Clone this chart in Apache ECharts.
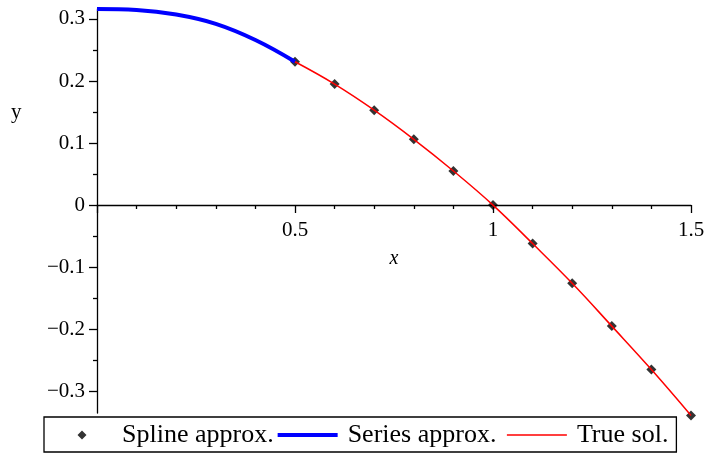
<!DOCTYPE html>
<html>
<head>
<meta charset="utf-8">
<script src="https://cdn.jsdelivr.net/npm/echarts@6/dist/echarts.min.js"></script>
<style>
  html, body { margin: 0; padding: 0; background: #fff; }
  #chart { width: 708px; height: 454px; }
</style>
</head>
<body>
<div id="chart"></div>
<script>
// values
const splineX = [0.5, 0.6, 0.7, 0.8, 0.9, 1.0, 1.1, 1.2, 1.3, 1.4, 1.5];
const splineY = [0.231, 0.195, 0.153, 0.106, 0.055, 0.0, -0.062, -0.126, -0.195, -0.265, -0.339];

const seriesX = [0, 0.1, 0.2, 0.3, 0.4, 0.5];
const seriesY = [0.316, 0.3145, 0.307, 0.292, 0.266, 0.231];

const trueX = [0.5, 0.6, 0.7, 0.8, 0.9, 1.0, 1.1, 1.2, 1.3, 1.4, 1.5];
const trueY = [0.231, 0.195, 0.153, 0.106, 0.055, 0.0, -0.062, -0.126, -0.195, -0.265, -0.339];

const yTicks = [-0.3, -0.2, -0.1, 0, 0.1, 0.2, 0.3];
const yMinorTicks = [-0.25, -0.15, -0.05, 0.05, 0.15, 0.25];

const zip = (xs, ys) => xs.map((x, i) => [x, ys[i]]);
const font = '"Liberation Serif", "DejaVu Serif", serif';
const fmtNum = v => {
  if (Math.abs(v) < 1e-9) return '0';
  const s = Math.abs(v).toFixed(1).replace(/\.0$/, '');
  return v < 0 ? '\u2212' + s : s;
};
const black = { color: '#000', width: 1.3 };

// legend icons: every path spans the full 60x9 box so they line up the same way
const corners = 'M0,0L0.01,0L0,0.01Z M60,9L59.99,9L60,8.99Z ';
const diamondIcon = 'path://' + corners + 'M30,0L34.5,4.5L30,9L25.5,4.5Z';
const thickIcon = 'path://' + corners + 'M0,2.5L60,2.5L60,6.5L0,6.5Z';
const thinIcon = 'path://' + corners + 'M0,3.75L60,3.75L60,5.25L0,5.25Z';

const chart = echarts.init(document.getElementById('chart'));
chart.setOption({
  animation: false,
  // grid 0 holds the data, grid 1 only carries the x axis drawn at y = 0
  grid: [
    { left: 97, right: 17, top: 9, bottom: 41, outerBoundsMode: 'none' },
    { left: 97, right: 17, top: 9, bottom: 249, outerBoundsMode: 'none' }
  ],
  xAxis: [{
    gridIndex: 0,
    type: 'value',
    min: 0, max: 1.5,
    show: false
  }, {
    gridIndex: 1,
    type: 'value',
    min: 0, max: 1.5, interval: 0.5,
    name: 'x',
    nameLocation: 'middle',
    nameGap: 44,
    nameTextStyle: { fontFamily: font, fontSize: 20, fontStyle: 'italic', color: '#000' },
    axisLine: { onZero: false, lineStyle: black },
    axisTick: { length: 8, lineStyle: black },
    minorTick: { show: true, splitNumber: 5, length: 4, lineStyle: black },
    splitLine: { show: false },
    axisLabel: {
      margin: 15,
      fontFamily: font, fontSize: 21, color: '#000',
      formatter: v => (v === 0 ? '' : fmtNum(v))
    }
  }],
  yAxis: [{
    gridIndex: 0,
    type: 'value',
    min: -0.335, max: 0.316,
    axisLine: { lineStyle: black },
    axisTick: { customValues: yTicks, length: 8, lineStyle: black },
    splitLine: { show: false },
    axisLabel: {
      customValues: yTicks,
      margin: 12,
      fontFamily: font, fontSize: 21, color: '#000',
      formatter: v => fmtNum(v)
    }
  }, {
    gridIndex: 0,
    type: 'value',
    min: -0.335, max: 0.316,
    position: 'left',
    axisLine: { show: false },
    axisTick: { customValues: yMinorTicks, length: 4, lineStyle: black },
    axisLabel: { show: false },
    splitLine: { show: false }
  }, {
    gridIndex: 1,
    type: 'value',
    min: 0, max: 1,
    show: false
  }],
  legend: {
    left: 44, top: 417,
    padding: [5, 8, 4, 8],
    borderColor: '#000', borderWidth: 1.3,
    itemWidth: 60, itemHeight: 9, itemGap: 4,
    symbolKeepAspect: true,
    selectedMode: false,
    textStyle: {
      fontFamily: font, fontSize: 26, color: '#000', padding: [0, 0, 0, 5],
      rich: { g: { width: 6 } }
    },
    formatter: name => (name === 'Series approx.' ? name + '{g| }' : name),
    data: [
      { name: 'Spline approx.', icon: diamondIcon },
      { name: 'Series approx.', icon: thickIcon },
      { name: 'True sol.', icon: thinIcon }
    ]
  },
  graphic: [{
    type: 'text',
    left: 11, top: 102,
    style: { text: 'y', font: '21px ' + font, fill: '#000' }
  }],
  series: [{
    name: 'Spline approx.',
    type: 'scatter',
    xAxisIndex: 0, yAxisIndex: 0,
    symbol: 'diamond',
    symbolSize: 10,
    clip: false,
    itemStyle: { color: '#000' },
    data: zip(splineX, splineY),
    z: 2
  }, {
    name: 'Series approx.',
    type: 'line',
    xAxisIndex: 0, yAxisIndex: 0,
    smooth: 0.4,
    showSymbol: false,
    symbol: 'none',
    clip: false,
    lineStyle: { color: '#0000ff', width: 4 },
    itemStyle: { color: '#0000ff' },
    data: zip(seriesX, seriesY),
    z: 3
  }, {
    name: 'True sol.',
    type: 'line',
    xAxisIndex: 0, yAxisIndex: 0,
    smooth: 0.4,
    showSymbol: false,
    symbol: 'none',
    clip: false,
    lineStyle: { color: '#ff0000', width: 1.5 },
    itemStyle: { color: '#ff0000' },
    data: zip(trueX, trueY),
    z: 4
  }]
});
</script>
</body>
</html>
